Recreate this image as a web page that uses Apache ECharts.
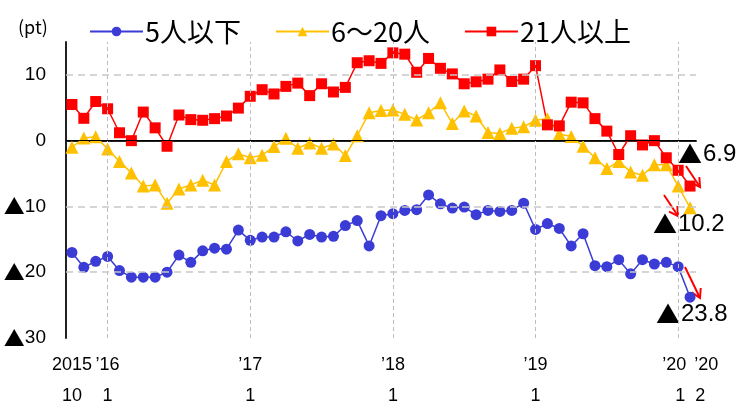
<!DOCTYPE html>
<html>
<head>
<meta charset="utf-8">
<script src="https://cdn.jsdelivr.net/npm/echarts@6/dist/echarts.min.js"></script>
<style>html,body{margin:0;padding:0;background:#fff}#c{width:750px;height:401px}</style>
</head>
<body>
<div id="c"></div>
<script>
// ---- data ----
var startYear = 2015, startMonth = 10, monthCount = 53;
var seriesNames = ['5人以下', '6〜20人', '21人以上'];
var small = [-17.0,-19.25,-18.35,-17.6,-19.75,-20.75,-20.75,-20.75,-20.0,-17.4,-18.5,-16.75,-16.35,-16.5,-13.6,-15.15,-14.65,-14.65,-13.85,-15.25,-14.25,-14.65,-14.55,-12.9,-12.15,-16.0,-11.4,-11.1,-10.6,-10.5,-8.25,-9.6,-10.25,-10.1,-11.25,-10.6,-10.75,-10.6,-9.5,-13.5,-12.6,-13.35,-16.0,-14.15,-19.0,-19.15,-18.1,-20.25,-18.1,-18.75,-18.5,-19.15,-23.8];
var medium = [-1.0,0.4,0.6,-1.25,-3.15,-4.9,-6.9,-6.75,-9.5,-7.35,-6.75,-6.0,-6.75,-3.15,-2.0,-2.6,-2.2,-0.9,0.35,-1.15,-0.35,-1.15,-0.5,-2.25,0.75,4.25,4.6,4.65,4.0,3.15,4.25,5.75,2.6,4.5,3.75,1.25,1.1,1.9,2.1,3.1,3.35,1.0,0.65,-0.85,-2.6,-4.25,-3.15,-4.75,-5.25,-3.65,-3.65,-6.9,-10.2];
var large = [5.5,3.4,5.95,4.85,1.2,0,4.35,1.95,-0.85,3.9,3.2,3.1,3.35,3.75,4.95,6.75,7.75,7.1,8.25,8.75,6.85,8.65,7.4,8.1,11.85,12.15,11.75,13.35,13.15,10.4,12.5,11.0,10.15,8.65,8.95,9.35,10.75,9.0,9.35,11.4,2.4,2.25,5.85,5.75,3.35,1.45,-2.1,0.75,-0.65,0,-2.6,-4.5,-6.9];
var tickIdx = [0, 3, 15, 27, 39, 51];
var tickTop = ['2015', '’16', '’17', '’18', '’19', '’20'];
var tickBottom = ['10', '1', '1', '1', '1', '1'];
var lastTop = '’20', lastBottom = '2';
var yearLineIdx = [3, 15, 27, 39, 51];
var dashedY = [10, -10, -20];
var endLabels = ['6.9', '10.2', '23.8'];

var categories = [];
for (var k = 0; k < monthCount; k++) {
  var m = startMonth - 1 + k;
  categories.push((startYear + Math.floor(m / 12)) + '/' + (m % 12 + 1));
}

var FONT = "'Liberation Sans', 'Noto Sans CJK JP', sans-serif";
var CJK = "'Noto Sans CJK JP', sans-serif";

var chart = echarts.init(document.getElementById('c'), null, {renderer: 'canvas'});

function arrow(x1, y1, x2, y2) {
  var ang = Math.atan2(y2 - y1, x2 - x1), L = 10, a = Math.PI / 6;
  return [
    {type: 'line', shape: {x1: x1, y1: y1, x2: x2, y2: y2}, style: {stroke: '#ff0000', lineWidth: 2}},
    {type: 'polyline', shape: {points: [
      [x2 - L * Math.cos(ang - a), y2 - L * Math.sin(ang - a)], [x2, y2],
      [x2 - L * Math.cos(ang + a), y2 - L * Math.sin(ang + a)]]},
      style: {stroke: '#ff0000', lineWidth: 2, fill: null}}
  ];
}

function endText(x, y, s) {
  return {type: 'text', left: x, top: y, style: {
    text: '{t|▲}{n|' + s + '}',
    rich: {
      t: {fontSize: 24, fontFamily: CJK, fill: '#000', padding: [0, 1, 0, 0]},
      n: {fontSize: 24, fontFamily: FONT, fill: '#000'}
    }
  }};
}

var graphics = [
  {type: 'text', left: 18, top: 18, style: {text: '(pt)', font: '18px ' + CJK, fill: '#000'}},
  endText(678, 142, endLabels[0]),
  endText(653, 212, endLabels[1]),
  endText(656, 302, endLabels[2])
].concat(arrow(686, 166, 700, 187), arrow(664, 195, 678, 216), arrow(685, 267, 700, 298));

var lab = {fontSize: 18, fontFamily: FONT, color: '#000', lineHeight: 31};
var option = {
  animation: false,
  textStyle: {fontFamily: FONT},
  legend: {
    data: seriesNames,
    left: 84, top: 13,
    itemWidth: 53, itemHeight: 12, itemGap: 34,
    textStyle: {fontSize: 27, fontFamily: CJK, color: '#000', padding: [0, 0, 0, -3]}
  },
  grid: {left: 66, right: 54, top: 42, bottom: 63, containLabel: false, outerBoundsMode: 'none'},
  xAxis: {
    type: 'category',
    data: categories,
    boundaryGap: true,
    axisLine: {lineStyle: {color: '#222', width: 2}},
    axisTick: {show: false},
    splitLine: {show: false},
    axisLabel: {
      interval: function (i) { return tickIdx.indexOf(i) >= 0; },
      hideOverlap: false,
      margin: 12,
      formatter: function (v, i) {
        var p = tickIdx.indexOf(i);
        if (p < 0) return '';
        if (i === 51) {
          return '{s|}{w|' + tickTop[p] + '}{w|' + lastTop + '}\n{s|}{v|' + tickBottom[p] + '}{v|' + lastBottom + '}';
        }
        return '{a|' + tickTop[p] + '}\n{a|' + tickBottom[p] + '}';
      },
      rich: {
        a: lab,
        s: {width: 24, lineHeight: 31},
        w: Object.assign({width: 32, align: 'center'}, lab),
        v: Object.assign({width: 20, align: 'center'}, lab)
      }
    }
  },
  yAxis: {
    type: 'value',
    min: -30, max: 15, interval: 10,
    axisLine: {show: true, lineStyle: {color: '#222', width: 2}},
    axisTick: {show: false},
    splitLine: {show: false},
    axisLabel: {
      margin: 20, color: '#000',
      formatter: function (v) {
        if (v > 10) return '';
        return v < 0 ? '{t|▲}{n|' + (-v) + '}' : '{n|' + v + '}';
      },
      rich: {
        t: {fontSize: 21, fontFamily: CJK, color: '#000'},
        n: {fontSize: 19, fontFamily: FONT, color: '#000'}
      }
    }
  },
  graphic: graphics,
  series: [
    {
      name: 'guides', type: 'line', data: [], silent: true, z: 1,
      markLine: {
        silent: true, symbol: 'none', label: {show: false},
        data: yearLineIdx.map(function (i) {
          return {xAxis: categories[i], lineStyle: {color: '#bdbdbd', type: [4, 3], width: 1}};
        }).concat(dashedY.map(function (v) {
          return {yAxis: v, lineStyle: {color: '#c8c8c8', type: [7, 5], width: 1.5}};
        })).concat([{yAxis: 0, lineStyle: {color: '#000', type: 'solid', width: 1.2}}])
      }
    },
    {
      name: seriesNames[0], type: 'line', data: small, z: 3,
      symbol: 'circle', symbolSize: 11, showSymbol: true, showAllSymbol: true,
      itemStyle: {color: '#3b3bd6'}, lineStyle: {color: '#3b3bd6', width: 1.5}
    },
    {
      name: seriesNames[1], type: 'line', data: medium, z: 3,
      symbol: 'triangle', symbolSize: 13, showSymbol: true, showAllSymbol: true,
      itemStyle: {color: '#ffc000'}, lineStyle: {color: '#ffc000', width: 1.5}
    },
    {
      name: seriesNames[2], type: 'line', data: large, z: 3,
      symbol: 'rect', symbolSize: 11, showSymbol: true, showAllSymbol: true,
      itemStyle: {color: '#ff0000'}, lineStyle: {color: '#ff0000', width: 1.5}
    }
  ]
};
chart.setOption(option);
</script>
</body>
</html>
